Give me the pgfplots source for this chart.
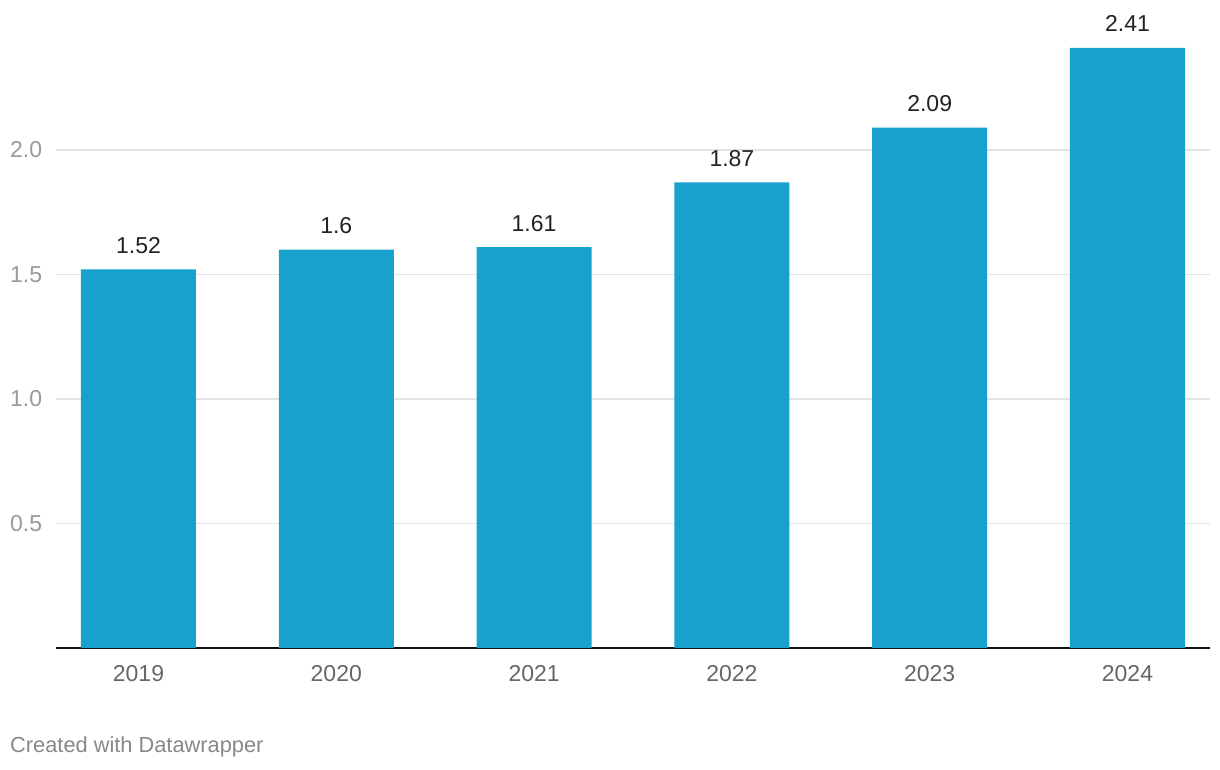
\documentclass[border=0pt]{standalone}
\usepackage{pgfplots}
\pgfplotsset{compat=1.18}
\usepackage{fontspec}
\setmainfont{Liberation Sans}
\definecolor{barblue}{HTML}{18A1CD}
\definecolor{gridgray}{HTML}{E3E3E3}
\definecolor{ylab}{HTML}{999999}
\definecolor{xlab}{HTML}{666666}
\definecolor{foot}{HTML}{888888}
\definecolor{vallab}{HTML}{222222}
\begin{document}
\begin{tikzpicture}
\path[use as bounding box] (0,0) rectangle (1220pt,770pt);
\begin{axis}[
  at={(56pt,122pt)}, anchor=south west,
  scale only axis, width=1154pt, height=628pt,
  xmin=-0.417, xmax=5.417, ymin=0, ymax=2.522,
  /pgf/number format/assume math mode=true,
  font=\fontsize{23}{28}\selectfont,
  xtick=data,
  xticklabels={2019,2020,2021,2022,2023,2024},
  ytick={0.5,1,1.5,2},
  yticklabels={0.5,1.0,1.5,2.0},
  ymajorgrids,
  major grid style={gridgray, line width=1.5pt},
  tick style={draw=none},
  axis x line*=bottom, axis y line*=left,
  x axis line style={-, line width=2pt, black!93},
  y axis line style={draw=none},
  xticklabel style={text=xlab, anchor=base, inner sep=0pt, yshift=-34pt},
  yticklabel style={text=ylab, anchor=west, inner sep=0pt, xshift=-46pt},
  clip=false,
]
\addplot[ybar, bar width=115pt, fill=barblue, draw=none,
  nodes near coords={\pgfmathprintnumber{\pgfplotspointmeta}},
  every node near coord/.append style={text=vallab, anchor=base, inner sep=0pt, yshift=16pt},
] coordinates {(0,1.52) (1,1.6) (2,1.61) (3,1.87) (4,2.09) (5,2.41)};
\end{axis}
\node[anchor=base west, inner sep=0pt, text=foot, font=\fontsize{21.8}{26}\selectfont] at (10pt,17pt) {Created with Datawrapper};
\end{tikzpicture}
\end{document}
